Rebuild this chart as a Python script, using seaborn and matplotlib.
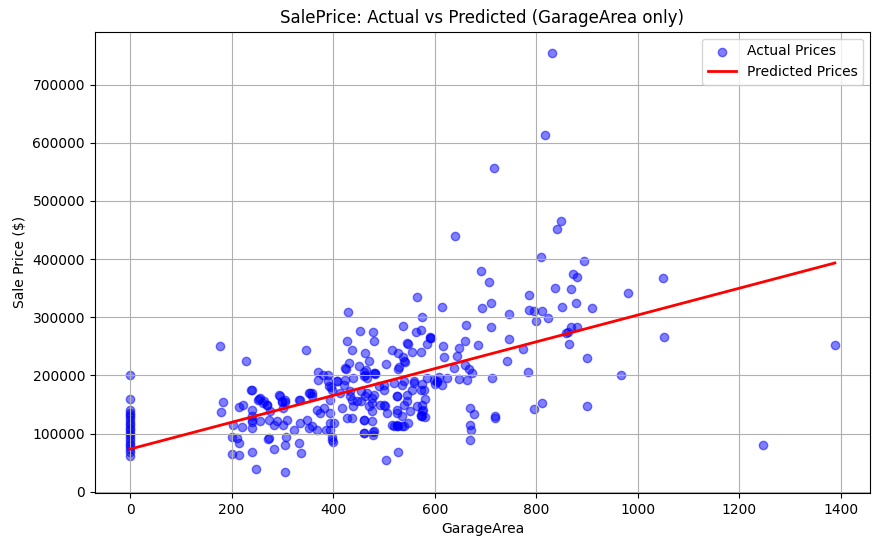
import numpy as np
import pandas as pd
import matplotlib
matplotlib.use('Agg')
import matplotlib.pyplot as plt
import seaborn as sns

# test-set points: (GarageArea, SalePrice)
zero_garage_prices = [201000, 160000, 141000, 136000, 132000, 128000, 124000, 119000,
                      115000, 110000, 106000, 101000, 97000, 92000, 87000, 82000,
                      78000, 74000, 68000, 62000]

sparse_points = [
    (178, 251000), (229, 225000), (239, 175000), (183, 155000), (179, 138000), (215, 145000),
    (223, 150000), (240, 140000), (240, 130000), (240, 120000), (240, 110000), (203, 115000),
    (220, 112000), (201, 95000), (210, 93000), (215, 84000), (240, 69000), (201, 65000),
    (215, 64000), (248, 40000), (252, 158000), (347, 244000), (370, 206000), (380, 200000),
    (390, 190000), (395, 180000), (254, 160000), (261, 153000), (270, 150000), (296, 165000),
    (300, 155000), (306, 155000), (333, 158000), (353, 170000), (359, 170000), (272, 91000),
    (284, 74000), (308, 95000), (306, 81000), (333, 84000), (337, 67000), (306, 34000),
    (566, 335000), (430, 310000), (574, 301000), (538, 285000), (564, 275000), (572, 279000),
    (590, 265000), (584, 255000), (452, 277000), (479, 275000), (481, 260000), (428, 260000),
    (438, 243000), (463, 239000), (471, 225000), (515, 244000), (548, 255000), (556, 241000),
    (572, 241000), (540, 225000), (530, 215000), (505, 220000), (424, 213000), (432, 222000),
    (450, 217000), (465, 210000), (483, 203000), (463, 201000), (460, 101000), (479, 103000),
    (479, 98000), (527, 69000), (505, 55000), (398, 95000), (400, 86000), (639, 440000),
    (809, 404000), (692, 380000), (706, 361000), (615, 318000), (694, 316000), (710, 325000),
    (785, 339000), (747, 306000), (785, 313000), (795, 311000), (812, 311000), (799, 294000),
    (824, 298000), (662, 287000), (710, 284000), (592, 265000), (747, 263000), (773, 246000),
    (617, 251000), (647, 248000), (659, 260000), (686, 253000), (619, 231000), (643, 234000),
    (743, 225000), (637, 213000), (659, 218000), (668, 212000), (674, 205000), (664, 193000),
    (647, 194000), (625, 196000), (609, 198000), (605, 189000), (615, 184000), (601, 186000),
    (712, 196000), (783, 206000), (670, 144000), (678, 134000), (718, 127000), (718, 130000),
    (670, 115000), (672, 107000), (670, 89000), (795, 143000), (812, 153000), (864, 255000),
    (858, 273000), (899, 230000), (966, 200000), (899, 148000), (1051, 267000), (1388, 253000),
    (1246, 81000), (848, 466000), (840, 452000), (893, 396000), (872, 375000), (880, 370000),
    (836, 351000), (868, 349000), (980, 342000), (850, 318000), (878, 325000), (909, 316000),
    (868, 284000), (880, 284000), (862, 275000), (590, 267000), (1049, 368000), (830, 755000),
    (818, 614000), (716, 557000),
]

dense_points = [
    (389, 200000), (371, 193000), (467, 196000), (483, 205000), (460, 206000), (426, 212000),
    (527, 212000), (542, 224000), (546, 256000), (527, 239000), (538, 232000),
    (240, 175400), (256, 161100), (263, 155400), (270, 149700), (276, 138200), (294, 166900),
    (299, 155400), (306, 158200), (302, 143900), (334, 158200), (355, 169700), (358, 164000),
    (375, 135300), (381, 143900), (368, 141000), (398, 175400), (408, 189800), (391, 181200),
    (421, 184000), (434, 172600), (437, 158200), (454, 172600), (440, 146800), (454, 155400),
    (463, 164000), (470, 146800), (480, 166900), (477, 152500), (490, 181200), (500, 175400),
    (500, 149700), (506, 135300), (526, 164000), (539, 149700), (526, 141000), (546, 155400),
    (536, 184000), (240, 123900), (256, 121000), (273, 123900), (283, 115200), (289, 121000),
    (302, 115200), (309, 123900), (322, 106600), (335, 118100), (352, 109500), (358, 112400),
    (348, 123900), (368, 106600), (385, 106600), (394, 106600), (401, 118100), (427, 126700),
    (460, 123900), (477, 121000), (460, 100900), (480, 103800), (519, 112400), (526, 115200),
    (539, 112400), (273, 92300), (398, 89400),
    (408, 189800), (424, 192600), (440, 195500), (460, 198400), (480, 204100), (500, 184000),
    (519, 186900), (539, 189800), (559, 186900), (572, 175400), (585, 195500), (605, 189800),
    (414, 169700), (434, 164000), (447, 155400), (467, 169700), (477, 161100), (493, 149700),
    (526, 164000), (546, 166900), (565, 146800), (572, 132400), (575, 138200), (417, 143900),
    (437, 126700), (460, 123900), (477, 138200), (503, 146800), (526, 135300), (552, 138200),
    (516, 114100), (526, 112400), (536, 112400), (536, 129600), (572, 129600), (394, 158200),
    (394, 135300), (394, 118100), (575, 185000), (578, 175000), (580, 160000), (575, 150000),
    (577, 140000), (575, 130000), (580, 128000), (560, 190000), (555, 175000), (598, 193000),
    (527, 113000), (547, 119000),
]

# fitted model: SalePrice ~ GarageArea
intercept = 73500
slope = 230.5

garage_area = [0] * len(zero_garage_prices) + [p[0] for p in sparse_points + dense_points]
sale_price = zero_garage_prices + [p[1] for p in sparse_points + dense_points]

df = pd.DataFrame({'GarageArea': garage_area, 'SalePrice': sale_price})
df['Predicted'] = intercept + slope * df['GarageArea']

fig, ax = plt.subplots(figsize=(8.78, 5.46), dpi=100)
fig.subplots_adjust(left=0.108, right=0.991, top=0.942, bottom=0.097)

sns.scatterplot(data=df, x='GarageArea', y='SalePrice', ax=ax, color='blue', alpha=0.5,
                s=36, edgecolor='blue', linewidth=1, label='Actual Prices')
sns.lineplot(data=df, x='GarageArea', y='Predicted', ax=ax, color='red', linewidth=2,
             estimator=None, label='Predicted Prices')

ax.set_title('SalePrice: Actual vs Predicted (GarageArea only)')
ax.set_xlabel('GarageArea')
ax.set_ylabel('Sale Price ($)')
ax.grid(True)
ax.legend(loc='upper right')

fig.savefig('out.png', dpi=100)
